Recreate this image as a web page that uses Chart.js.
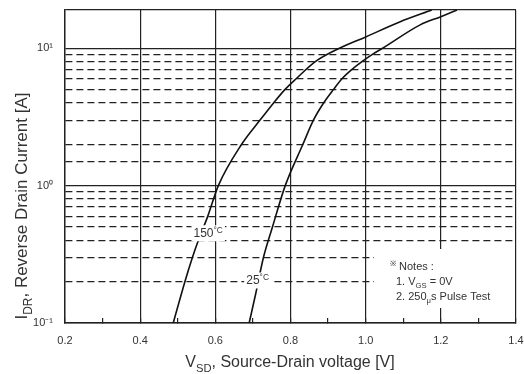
<!DOCTYPE html>
<html>
<head>
<meta charset="utf-8">
<script src="https://cdn.jsdelivr.net/npm/chart.js@4.4.0/dist/chart.umd.min.js"></script>
<style>
    html, body { margin: 0; padding: 0; background: #fff; }
    #wrap { width: 524px; height: 374px; }
</style>
</head>
<body>
<div id="wrap"><canvas id="drainChart"></canvas></div>
<script>
// Reverse drain current vs. source-drain voltage
const vsd150 = [0.488, 0.519, 0.539, 0.555, 0.580, 0.608, 0.670, 0.719, 0.755, 0.785, 0.815, 0.866, 0.930, 1.000, 1.092, 1.176];
const idr150 = [0.1, 0.2, 0.3, 0.4, 0.6, 1.0, 2.0, 3.0, 4.0, 5.0, 6.0, 8.0, 10, 12.1, 15.6, 19];

const vsd25 = [0.690, 0.708, 0.728, 0.752, 0.786, 0.833, 0.861, 0.888, 0.914, 0.937, 0.963, 0.990, 1.017, 1.045, 1.145, 1.200, 1.243];
const idr25 = [0.1, 0.166, 0.3, 0.5, 1.0, 2.0, 3.0, 4.0, 5.0, 6.0, 7.0, 8.0, 9.0, 10, 14.8, 17.0, 19];

const xTickLabels = ['0.2', '0.4', '0.6', '0.8', '1.0', '1.2', '1.4'];
const yTickLabels = { '-1': '10\u207B\u00B9', '0': '10\u2070', '1': '10\u00B9' };

// curve labels: [text, voltage, current]
const curveLabels = [['150', 0.581, 0.45], ['25', 0.7125, 0.204]];

const FONT = '"Liberation Sans", Arial, sans-serif';

function toPoints(xs, ys) {
    return xs.map(function (x, i) { return { x: x, y: ys[i] }; });
}

function isDecade(v) {
    const l = Math.log10(v);
    return Math.abs(l - Math.round(l)) < 1e-6;
}

// draws text pieces in a row, some of them as sub/superscripts
function drawRich(ctx, parts, x, y, size, align) {
    let total = 0;
    parts.forEach(function (p) {
        ctx.font = (p.sub || p.sup ? size * 0.7 : size) + 'px ' + FONT;
        p.w = ctx.measureText(p.t).width;
        total += p.w;
    });
    let cx = align === 'center' ? x - total / 2 : x;
    parts.forEach(function (p) {
        ctx.font = (p.sub || p.sup ? size * 0.7 : size) + 'px ' + FONT;
        let dy = p.sub ? size * 0.3 : (p.sup ? -size * 0.35 : 0);
        ctx.fillText(p.t, cx, y + dy);
        cx += p.w;
    });
    return total;
}

const textPlugin = {
    id: 'textPlugin',
    beforeDatasetsDraw: function (chart) {
        // the notes sit on a blank patch, grid lines stop around it
        const ctx = chart.ctx;
        const area = chart.chartArea;
        ctx.save();
        ctx.fillStyle = '#fff';
        ctx.fillRect(374, 249, area.right - 375, 59);
        ctx.restore();
    },
    afterDatasetsDraw: function (chart) {
        const ctx = chart.ctx;
        const xs = chart.scales.x;
        const ys = chart.scales.y;
        ctx.save();
        ctx.fillStyle = '#222';
        ctx.textBaseline = 'alphabetic';
        ctx.textAlign = 'left';

        // curve temperature labels with white backing
        curveLabels.forEach(function (lb) {
            const px = xs.getPixelForValue(lb[1]);
            const py = ys.getPixelForValue(lb[2]);
            ctx.font = '12px ' + FONT;
            const w = ctx.measureText(lb[0]).width + ctx.measureText('°C').width * 0.7;
            ctx.fillStyle = '#fff';
            ctx.fillRect(px - w / 2 - 2, py - 8, w + 4, 16);
            ctx.fillStyle = '#333';
            drawRich(ctx, [{ t: lb[0] }, { t: '°C', sup: true }], px, py + 4, 12, 'center');
        });

        // notes
        ctx.fillStyle = '#333';
        drawRich(ctx, [{ t: '\u203B', sup: true }, { t: ' Notes :' }], 390, 270, 11, 'left');
        drawRich(ctx, [{ t: '1. V' }, { t: 'GS', sub: true }, { t: ' = 0V' }], 396, 285, 11, 'left');
        drawRich(ctx, [{ t: '2. 250' }, { t: '\u03BC', sub: true }, { t: 's Pulse Test' }], 396, 300, 11, 'left');

        // axis titles
        ctx.fillStyle = '#333';
        drawRich(ctx, [{ t: 'V' }, { t: 'SD', sub: true }, { t: ', Source-Drain voltage [V]' }], 290, 367, 16, 'center');
        ctx.translate(27, 206);
        ctx.rotate(-Math.PI / 2);
        drawRich(ctx, [{ t: 'I' }, { t: 'DR', sub: true }, { t: ', Reverse Drain Current [A]' }], 0, 0, 17, 'center');
        ctx.restore();
    }
};

const ctx = document.getElementById('drainChart').getContext('2d');
new Chart(ctx, {
    type: 'line',
    data: {
        datasets: [{
            label: '150 °C',
            data: toPoints(vsd150, idr150),
            borderColor: '#111',
            borderWidth: 1.6,
            pointRadius: 0,
            cubicInterpolationMode: 'monotone',
            fill: false
        }, {
            label: '25 °C',
            data: toPoints(vsd25, idr25),
            borderColor: '#111',
            borderWidth: 1.6,
            pointRadius: 0,
            cubicInterpolationMode: 'monotone',
            fill: false
        }]
    },
    options: {
        responsive: true,
        maintainAspectRatio: false,
        animation: false,
        layout: { padding: { top: 10, right: 8, left: 0, bottom: 0 } },
        plugins: {
            legend: { display: false },
            tooltip: { enabled: false }
        },
        scales: {
            x: {
                type: 'linear',
                min: 0.2,
                max: 1.4,
                afterFit: function (scale) {
                    scale.height = 51;
                    scale.paddingLeft = 0;
                    scale.paddingRight = 0;
                },
                ticks: {
                    stepSize: 0.1,
                    autoSkip: false,
                    maxRotation: 0,
                    padding: 16,
                    color: '#333',
                    font: { family: FONT, size: 11 },
                    callback: function (v) {
                        const n = Math.round(v * 10);
                        return n % 2 === 0 ? xTickLabels[(n - 2) / 2] : '';
                    }
                },
                grid: {
                    drawTicks: true,
                    tickLength: -5,
                    tickColor: '#222',
                    tickWidth: 1.2,
                    lineWidth: 1.2,
                    color: function (c) {
                        if (!c.tick) return '#222';
                        return Math.round(c.tick.value * 10) % 2 === 0 ? '#222' : 'rgba(0,0,0,0)';
                    }
                },
                border: { display: true, color: '#222', width: 1.4 }
            },
            y: {
                type: 'logarithmic',
                min: 0.1,
                max: 19,
                afterFit: function (scale) {
                    scale.width = 65;
                    scale.paddingTop = 0;
                    scale.paddingBottom = 0;
                },
                ticks: {
                    autoSkip: false,
                    padding: 12,
                    color: '#333',
                    font: { family: FONT, size: 11 },
                    callback: function (v) {
                        if (!isDecade(v)) return '';
                        return yTickLabels[String(Math.round(Math.log10(v)))] || '';
                    }
                },
                grid: {
                    drawTicks: false,
                    lineWidth: 1.2,
                    color: function (c) {
                        if (!c.tick) return '#222';
                        const v = c.tick.value;
                        // no grid between 10 A and the top edge
                        return (v > 10.5 && v < 18.5) ? 'rgba(0,0,0,0)' : '#222';
                    }
                },
                border: {
                    display: true,
                    color: '#222',
                    width: 1.4,
                    dash: function (c) {
                        if (!c.tick) return [];
                        const v = c.tick.value;
                        return (isDecade(v) || v >= 18.5) ? [] : [7, 4];
                    }
                }
            }
        }
    },
    plugins: [textPlugin]
});
</script>
</body>
</html>
